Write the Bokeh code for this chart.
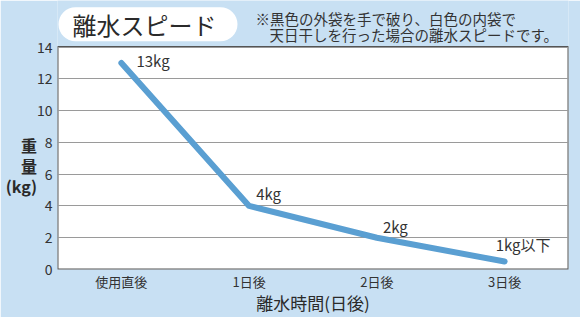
from bokeh.plotting import figure
from bokeh.models import Label, FactorRange, FixedTicker, ColumnDataSource, BoxAnnotation, Range1d
from bokeh.core.properties import value
from bokeh.embed import file_html
from bokeh.resources import INLINE

# data
categories = ["使用直後", "1日後", "2日後", "3日後"]
weights = [13, 4, 2, 0.5]
point_labels = ["13kg", "4kg", "2kg", "1kg以下"]
y_ticks = [0, 2, 4, 6, 8, 10, 12, 14]
y_max = 14

BG = "#c8e0f3"
LINE = "#5a9fd2"
TXT = "#333333"
DARK = "#2a2a2a"
JP = "Noto Sans CJK JP"

W, H = 580, 317
ML, MR, MT, MB = 57, 12, 0, 40
frame_h = H - MT - MB
px_per_unit = (277 - 48) / y_max          # plot area spans 229px for 0..14
y_top = frame_h / px_per_unit             # extra room above for the header

p = figure(width=W, height=H, x_range=FactorRange(*categories), y_range=Range1d(0, y_top),
           output_backend="svg", toolbar_location=None,
           min_border_left=ML, min_border_right=MR, min_border_top=MT, min_border_bottom=MB)
p.x_range.range_padding = 0
p.background_fill_color = BG
p.border_fill_color = BG
p.outline_line_color = None

# white plot area
p.add_layout(BoxAnnotation(bottom=0, top=y_max, fill_color="white", fill_alpha=1,
                           line_color="#555555", line_width=2, line_alpha=1, level="image"))

p.xgrid.grid_line_color = None
p.ygrid.grid_line_color = "#9a9a9a"
p.ygrid.grid_line_width = 1.2
p.yaxis.ticker = FixedTicker(ticks=y_ticks)

for ax in (p.xaxis[0], p.yaxis[0]):
    ax.axis_line_color = None
    ax.major_tick_line_color = None
    ax.minor_tick_line_color = None
    ax.major_tick_out = 0
    ax.major_tick_in = 0
    ax.minor_tick_out = 0
    ax.minor_tick_in = 0
    ax.major_label_text_color = TXT
    ax.major_label_text_font = JP
    ax.axis_label_text_font = JP
    ax.axis_label_text_color = DARK
p.yaxis.major_label_text_font_size = "14px"
p.yaxis.major_label_standoff = 5
p.xaxis.major_label_text_font_size = "13px"
p.xaxis.major_label_standoff = 2
p.xaxis.major_label_text_line_height = 0.9

xax = p.xaxis[0]
xax.axis_label = "離水時間(日後)"
xax.axis_label_text_font_size = "17px"
xax.axis_label_text_font_style = "normal"
xax.axis_label_text_line_height = 0.8
xax.axis_label_standoff = -4

yax = p.yaxis[0]
if "axis_label_orientation" in yax.properties():
    # leading blank lines push the stacked title down to the middle of the plot area
    yax.axis_label = "\u3000\n\u3000\n\u3000\n重\n量\n(kg)"
    yax.axis_label_orientation = "horizontal"
else:
    yax.axis_label = "重量(kg)"
yax.axis_label_text_font_size = "16px"
yax.axis_label_text_font_style = "bold"
yax.axis_label_text_line_height = 0.85
yax.axis_label_standoff = -3

src = ColumnDataSource(dict(x=categories, y=weights))
p.line(x="x", y="y", source=src, line_color=LINE, line_width=6, line_cap="round", line_join="round")

offsets_x = [15, 7, 6, -9]
offsets_y = [-2, -12, -11, -17]
src2 = ColumnDataSource(dict(x=categories, y=weights, t=point_labels, ox=offsets_x, oy=offsets_y))
p.text(x="x", y="y", text="t", source=src2, x_offset="ox", y_offset="oy",
       text_font=value(JP), text_font_size="15px", text_color=TXT,
       text_baseline="middle", text_align="left")

# header (pixel positions converted to the data space of the frame, measured from its top)
def dx(px):
    return (px - ML) / ((W - ML - MR) / len(categories))

def dy(py):
    return y_top - py / px_per_unit

p.add_layout(BoxAnnotation(left=dx(58), right=dx(237), top=dy(7), bottom=dy(42),
                           fill_color="white", fill_alpha=1, line_color=None, border_radius=17))

p.add_layout(Label(x=dx(72), y=dy(24.5), text="離水スピード",
                   text_font=JP, text_font_size="24px", text_color=DARK, text_baseline="middle"))
p.add_layout(Label(x=dx(255), y=dy(18.5), text="※黒色の外袋を手で破り、白色の内袋で",
                   text_font=JP, text_font_size="14.5px", text_color=TXT, text_baseline="middle"))
p.add_layout(Label(x=dx(269), y=dy(35), text="天日干しを行った場合の離水スピードです。",
                   text_font=JP, text_font_size="14.5px", text_color=TXT, text_baseline="middle"))

open("out.html", "w").write(file_html(p, INLINE))
